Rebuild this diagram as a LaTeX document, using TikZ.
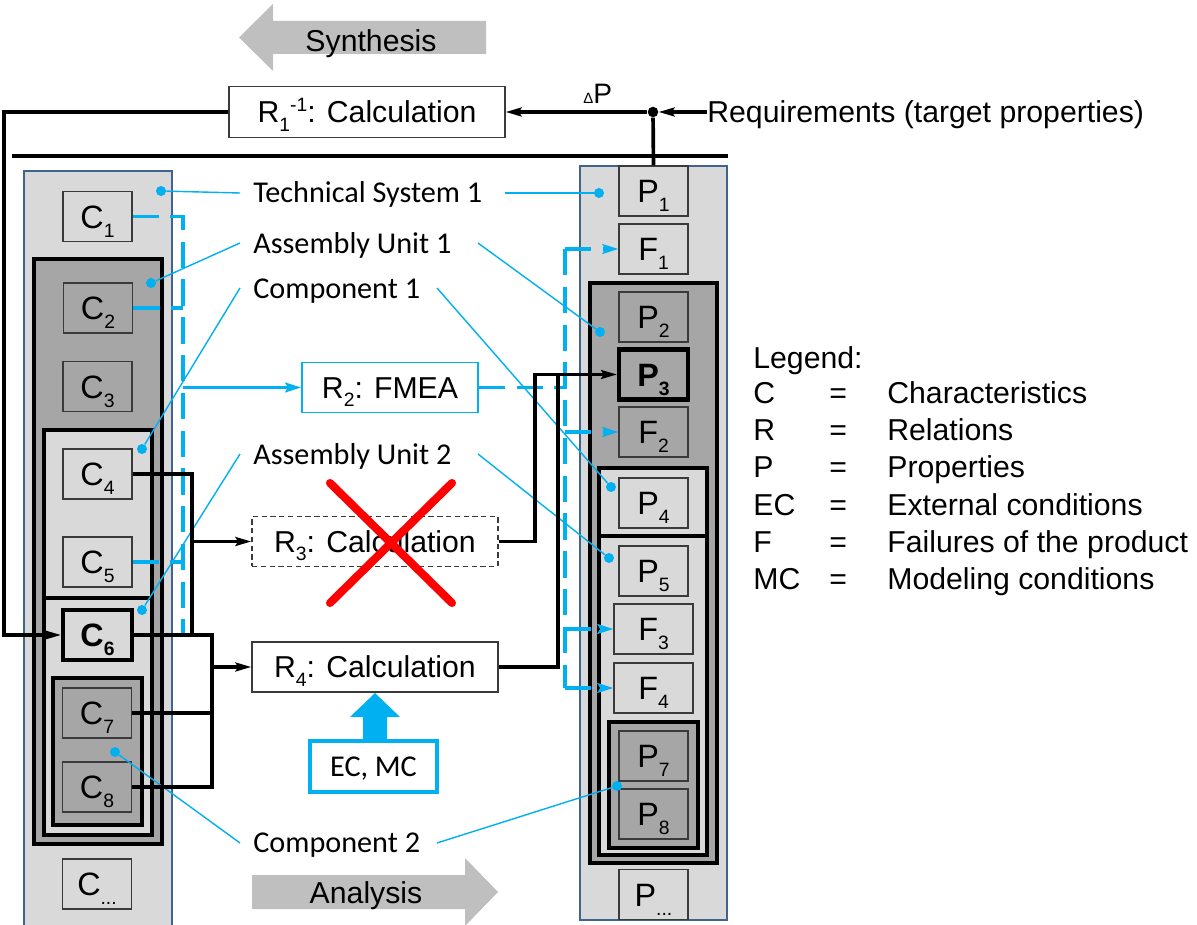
\documentclass[tikz,border=0pt]{standalone}
\usepackage{fontspec}
\setmainfont{Liberation Sans}
\newfontfamily\calfont{Carlito}
\usetikzlibrary{arrows.meta}

\definecolor{lgray}{HTML}{D9D9D9}
\definecolor{dgray}{HTML}{A6A6A6}
\definecolor{agray}{HTML}{BFBFBF}
\definecolor{cyanb}{HTML}{00B0F0}
\definecolor{steel}{HTML}{41648F}
\definecolor{boxline}{HTML}{3A3A3A}

% lowered index and raised exponent in text
\newcommand{\lowsub}[1]{\raisebox{-0.28em}{\fontsize{11}{11}\selectfont #1}}
\newcommand{\highsup}[1]{\raisebox{0.36em}{\fontsize{11}{11}\selectfont #1}}

\tikzset{
  conn/.style={draw=black, line width=2.1pt},
  arr/.style={-{Stealth[length=9pt,width=5pt,inset=1.5pt]}},
  bluedash/.style={draw=cyanb, line width=2.1pt, dash pattern=on 15pt off 6.5pt},
  bluesolid/.style={draw=cyanb, line width=2.1pt},
  barr/.style={-{Stealth[length=9pt,width=5.5pt,inset=1.5pt]}},
  callout/.style={draw=cyanb, line width=0.8pt},
  bdot/.style={circle, fill=cyanb, inner sep=0pt, minimum size=0.2cm},
  column/.style={draw=steel, line width=1.6pt, fill=lgray},
  unitbox/.style={draw=black, line width=2.2pt},
  cbox/.style={draw=boxline, line width=0.75pt, inner sep=0pt,
    minimum width=1.38cm, minimum height=1.0cm,
    font=\fontsize{18.4}{20}\selectfont, text height=13.2pt, text depth=0pt},
  wbox/.style={cbox, minimum width=1.58cm},
  keybox/.style={cbox, draw=black, line width=2.3pt,
    font=\bfseries\fontsize{18.4}{20}\selectfont},
  rbox/.style={draw=boxline, line width=0.75pt, fill=white, inner sep=0pt,
    minimum height=1.0cm, font=\fontsize{17.2}{20}\selectfont,
    text height=12.3pt, text depth=0pt},
  txt/.style={inner sep=0pt, font=\fontsize{17.2}{20}\selectfont,
    text height=12.3pt, text depth=0pt},
  ctxt/.style={inner sep=0pt, font=\calfont\fontsize{17.2}{20}\selectfont,
    text height=11pt, text depth=0pt},
}

\begin{document}
\begin{tikzpicture}[x=0.02cm, y=-0.02cm]
\useasboundingbox (0,0) rectangle (1197,925);

% direction arrows
\fill[agray] (486,21) -- (273,21) -- (273,4) -- (239,37.5) -- (273,71)
  -- (273,54) -- (486,54) -- cycle;
\node[txt] (syn) at (371,41) {Synthesis};
\fill[agray] (252,875) -- (465,875) -- (465,858) -- (498,892) -- (465,926)
  -- (465,909) -- (252,909) -- cycle;
\node[txt] (ana) at (366,893) {Analysis};

% separator
\coordinate (sepL) at (12,156);
\coordinate (sepR) at (728,156);
\draw[conn] (sepL) -- (sepR);

% characteristics column
\path[column] (24,171) rectangle (172,926);
\path[unitbox, fill=dgray] (34,259) rectangle (162,844);
\path[unitbox, fill=lgray] (44,430) rectangle (152,598);
\path[unitbox, fill=lgray] (44,598) rectangle (152,835);
\path[unitbox, fill=dgray] (53,678) rectangle (142,825);

% properties column
\path[column] (580,166) rectangle (727,920);
\path[unitbox, fill=dgray] (590,283) rectangle (717,863);
\path[unitbox, fill=lgray] (599,468) rectangle (707,536);
\path[unitbox, fill=lgray] (599,536) rectangle (707,855);
\path[unitbox, fill=dgray] (609,722) rectangle (698,848);

% characteristics
\node[cbox, fill=lgray] (c1) at (97.5,216.5) {C\lowsub{1}};
\node[cbox, fill=dgray] (c2) at (98,308) {C\lowsub{2}};
\node[cbox, fill=dgray] (c3) at (97.5,386.5) {C\lowsub{3}};
\node[cbox, fill=lgray] (c4) at (97.5,474) {C\lowsub{4}};
\node[cbox, fill=lgray] (c5) at (97.5,562) {C\lowsub{5}};
\node[keybox, fill=lgray] (c6) at (97.5,635) {C\lowsub{6}};
\node[cbox, fill=dgray] (c7) at (97,713) {C\lowsub{7}};
\node[cbox, fill=dgray] (c8) at (97,787) {C\lowsub{8}};
\node[cbox, fill=lgray] (cn) at (97,884) {C\lowsub{...}};

% properties and failures
\node[cbox, fill=lgray] (p1) at (653.5,191) {P\lowsub{1}};
\node[cbox, fill=lgray] (f1) at (653.5,249) {F\lowsub{1}};
\node[cbox, fill=dgray] (p2) at (653.5,317) {P\lowsub{2}};
\node[keybox, fill=dgray] (p3) at (653.5,374.5) {P\lowsub{3}};
\node[cbox, fill=dgray] (f2) at (653.5,432) {F\lowsub{2}};
\node[cbox, fill=lgray] (p4) at (653.5,503) {P\lowsub{4}};
\node[cbox, fill=lgray] (p5) at (653.5,571) {P\lowsub{5}};
\node[wbox, fill=lgray] (f3) at (653.5,629) {F\lowsub{3}};
\node[wbox, fill=lgray] (f4) at (653.5,688) {F\lowsub{4}};
\node[cbox, fill=dgray] (p7) at (653.5,756) {P\lowsub{7}};
\node[cbox, fill=dgray] (p8) at (653.5,814) {P\lowsub{8}};
\node[cbox, fill=lgray] (pn) at (653.5,894.5) {P\lowsub{...}};

% relations
\node[rbox, minimum width=5.52cm, minimum height=1.02cm] (r1) at (367,112)
  {R\lowsub{1}\highsup{-1}: Calculation};
\node[rbox, draw=cyanb, line width=1pt, minimum width=3.52cm] (r2) at (390,387.5)
  {R\lowsub{2}: FMEA};
\node[rbox, dash pattern=on 3pt off 2pt, minimum width=4.92cm] (r3) at (375,541.5)
  {R\lowsub{3}: Calculation};
\node[rbox, minimum width=4.92cm] (r4) at (375,667)
  {R\lowsub{4}: Calculation};

% conditions feeding R4
\fill[cyanb] (363,741) -- (363,717) -- (350,717) -- (375,693) -- (400,717)
  -- (387,717) -- (387,741) -- cycle;
\node[ctxt, draw=cyanb, line width=2pt, fill=white, minimum width=2.54cm,
  minimum height=1.02cm] (ecmc) at (373.5,766.5) {EC, MC};

% hierarchy labels
\node[ctxt, anchor=west] (lts) at (253,193) {Technical System 1};
\node[ctxt, anchor=west] (lau1) at (253,244) {Assembly Unit 1};
\node[ctxt, anchor=west] (lco1) at (253,289) {Component 1};
\node[ctxt, anchor=west] (lau2) at (253,455) {Assembly Unit 2};
\node[ctxt, anchor=west] (lco2) at (253,843) {Component 2};

\coordinate (tsA) at (240,193);  \coordinate (tsB) at (505,193);
\coordinate (au1A) at (240,243); \coordinate (au1B) at (478,243);
\coordinate (co1A) at (240,288); \coordinate (co1B) at (437,288);
\coordinate (au2A) at (240,454); \coordinate (au2B) at (478,454);
\coordinate (co2A) at (240,843); \coordinate (co2B) at (437,843);

\node[bdot] (dtsL) at (161,191) {};  \node[bdot] (dtsR) at (599,193) {};
\node[bdot] (dau1L) at (151,283) {}; \node[bdot] (dau1R) at (600,332) {};
\node[bdot] (dco1L) at (142,449) {}; \node[bdot] (dco1R) at (611,487) {};
\node[bdot] (dau2L) at (142,610) {}; \node[bdot] (dau2R) at (609,558) {};
\node[bdot] (dco2L) at (115,752) {}; \node[bdot] (dco2R) at (617,786) {};

\draw[callout] (tsA) -- (dtsL);   \draw[callout] (tsB) -- (dtsR);
\draw[callout] (au1A) -- (dau1L); \draw[callout] (au1B) -- (dau1R);
\draw[callout] (co1A) -- (dco1L); \draw[callout] (co1B) -- (dco1R);
\draw[callout] (au2A) -- (dau2L); \draw[callout] (au2B) -- (dau2R);
\draw[callout] (co2A) -- (dco2L); \draw[callout] (co2B) -- (dco2R);

% FMEA paths
\coordinate (bl) at (183,0);
\coordinate (br) at (565,0);
\coordinate (blend) at (183,633);
\draw[bluedash] (c1.east) -| (blend);
\draw[bluedash] (c2.east) -- (c2.east -| bl);
\draw[bluedash] (c5.east) -- (c5.east -| bl);
\draw[bluesolid, barr] (r2.west -| bl) -- (r2.west);
\draw[bluedash] (r2.east) -- (r2.east -| br);
\draw[bluedash] (br |- f1.west) -- (br |- f4.west);
\draw[bluedash, barr] (br |- f1.west) -- (f1.west);
\draw[bluedash, barr] (br |- f2.west) -- (f2.west);
\draw[bluedash, barr] (br |- f3.west) -- (f3.west);
\draw[bluedash, barr] (br |- f4.west) -- (f4.west);

% calculation paths
\coordinate (busA) at (192,0);
\coordinate (busB) at (212,0);
\coordinate (jx) at (535,0);
\coordinate (kx) at (558,0);
\coordinate (lx) at (4,0);
\draw[conn] (c4.east) -| (busA |- c6.east);
\draw[conn, arr] (r3.west -| busA) -- (r3.west);
\draw[conn] (c6.east) -| (busB |- c8.east) -- (c8.east);
\draw[conn] (c7.east) -- (c7.east -| busB);
\draw[conn, arr] (r4.west -| busB) -- (r4.west);
\draw[conn, arr] (r3.east) -| (jx |- p3.west) -- (p3.west);
\draw[conn] (r4.east) -| (kx |- p3.west);
\draw[conn, arr] (r1.west) -| (lx |- c6.west) -- (c6.west);

% requirements
\node[txt, anchor=west] (req) at (707,112) {Requirements (target properties)};
\node[circle, fill=black, inner sep=0pt, minimum size=0.21cm] (jdot) at (653,112) {};
\draw[conn, arr] (req.west) -- (jdot);
\draw[conn, arr] (jdot) -- (r1.east);
\draw[conn] (jdot) -- (p1.north);
\node[inner sep=0pt, anchor=base west] (dp) at (583,104)
  {{\fontsize{8.5}{8.5}\selectfont Δ}{\fontsize{16}{16}\selectfont P}};

% discarded relation
\draw[red, line width=4.6pt, line cap=round] (330,483) -- (452,603) (452,483) -- (330,603);

% legend
\node[txt, anchor=west] (lg) at (753,358) {Legend:};
\foreach \k/\v/\yy in {C/Characteristics/393, R/Relations/430, P/Properties/467,
    EC/External conditions/505, F/Failures of the product/542, MC/Modeling conditions/579}{
  \node[txt, anchor=west] (k\k) at (753,\yy) {\k};
  \node[txt, anchor=west] (e\k) at (829,\yy) {=};
  \node[txt, anchor=west] (v\k) at (887,\yy) {\v};
}
\end{tikzpicture}
\end{document}
